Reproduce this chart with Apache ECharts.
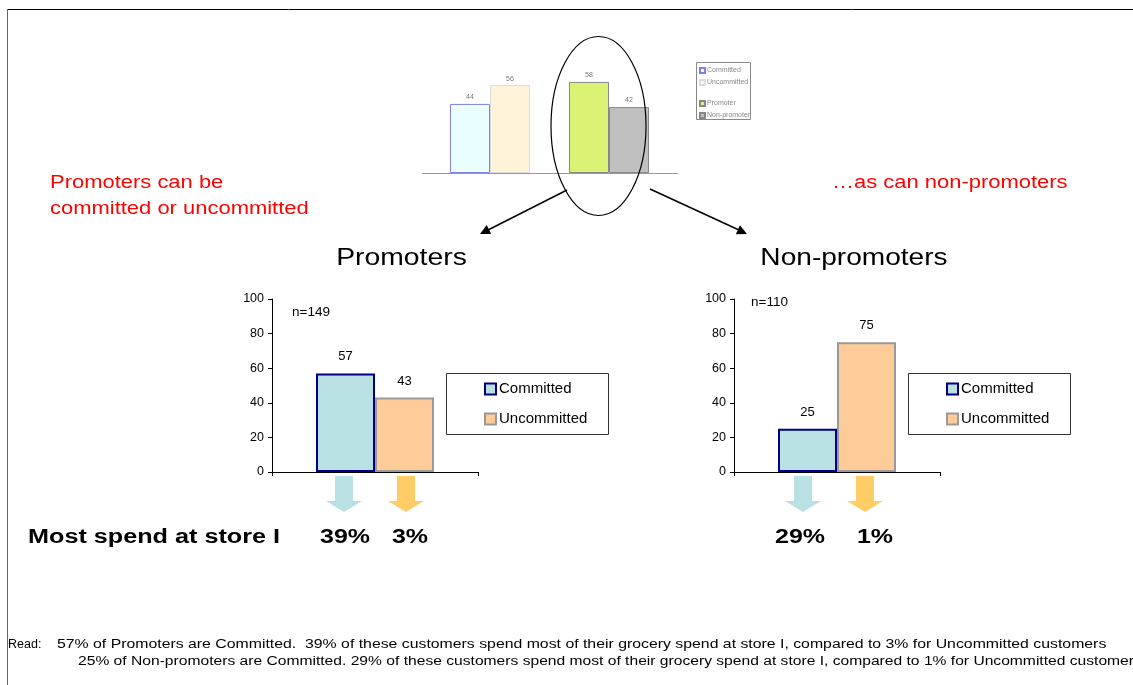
<!DOCTYPE html>
<html>
<head>
<meta charset="utf-8">
<script src="https://cdn.jsdelivr.net/npm/echarts@6/dist/echarts.min.js"></script>
<style>
html,body{margin:0;padding:0;background:#fff;}
#c{width:1133px;height:685px;}
</style>
</head>
<body>
<div id="c"></div>
<script>
// ---- data ----
const topCategories = ['Commitment', 'Advocacy'];
const topCommitted = [44, '-'];
const topUncommitted = [56, '-'];
const topPromoter = ['-', 58];
const topNonPromoter = ['-', 42];

const segmentCategory = ['Segment'];
const promotersCommitted = [57];
const promotersUncommitted = [43];
const nonPromotersCommitted = [25];
const nonPromotersUncommitted = [75];

const yTicks = [0, 20, 40, 60, 80, 100];
const promotersN = 'n=149';
const nonPromotersN = 'n=110';
const storeShare = ['39%', '3%', '29%', '1%'];

const FONT = '"Liberation Sans", Arial, sans-serif';

const chart = echarts.init(document.getElementById('c'), null, {renderer: 'canvas'});

function smallSeries(name, data, stack, fill, border) {
  return {
    name: name, type: 'bar', xAxisIndex: 0, yAxisIndex: 0, data: data, stack: stack,
    barWidth: 40, barGap: '0%',
    itemStyle: {color: fill, borderColor: border, borderWidth: 1},
    label: {show: true, position: 'top', distance: 3, fontSize: 7, color: '#777', fontFamily: FONT},
    animation: false
  };
}
function bigSeries(name, data, idx, fill, border) {
  return {
    name: name, type: 'bar', xAxisIndex: idx, yAxisIndex: idx, data: data,
    barWidth: 59, barGap: '0%',
    itemStyle: {color: fill, borderColor: border, borderWidth: 2},
    label: {show: true, position: 'top', distance: 10, fontSize: 13, color: '#000', fontFamily: FONT},
    animation: false
  };
}

const yAxisBig = (idx) => ({
  gridIndex: idx, type: 'value', min: 0, max: 100, interval: 20,
  axisLine: {show: true, lineStyle: {color: '#000', width: 1}},
  axisTick: {show: true, length: 4, lineStyle: {color: '#000'}},
  axisLabel: {fontSize: 12.5, color: '#000', fontFamily: FONT, margin: 8,
    formatter: v => (yTicks.indexOf(v) >= 0 ? String(v) : '')},
  splitLine: {show: false}
});
const xAxisBig = (idx) => ({
  gridIndex: idx, type: 'category', data: segmentCategory,
  axisLine: {show: true, lineStyle: {color: '#000', width: 1}},
  axisTick: {show: true, length: 4, lineStyle: {color: '#000'}},
  axisLabel: {show: false}
});

function downArrow(cx, color) {
  return {
    type: 'polygon', silent: true, z: 10,
    shape: {points: [[cx - 9, 476], [cx + 9, 476], [cx + 9, 501], [cx + 18, 501], [cx, 512], [cx - 18, 501], [cx - 9, 501]]},
    style: {fill: color}
  };
}
function txt(x, y, text, size, sx, style) {
  return {
    type: 'text', x: x, y: y, scaleX: sx || 1, silent: true, z: 20,
    style: Object.assign({text: text, fontSize: size, fontFamily: FONT, fill: '#000', verticalAlign: 'middle', align: 'left'}, style || {})
  };
}

const bigLegend = (names, left) => ({
  data: names, orient: 'vertical', left: left, top: 381, z: 10,
  icon: 'rect', itemWidth: 11, itemHeight: 11, itemGap: 14, padding: 0, selectedMode: false,
  textStyle: {fontSize: 15, color: '#000', fontFamily: FONT, lineHeight: 16, padding: [0, 0, 0, -2]}
});
const smallLegend = (names, top) => ({
  data: names, orient: 'vertical', left: 699, top: top, z: 10,
  icon: 'rect', itemWidth: 5, itemHeight: 5, itemGap: 5, padding: 0, selectedMode: false,
  textStyle: {fontSize: 7, color: '#888', fontFamily: FONT, padding: [0, 0, 0, -3]}
});

const option = {
  backgroundColor: '#fff',
  animation: false,
  grid: [
    {left: 430.5, top: 16, width: 238, height: 157},
    {left: 272, top: 299, width: 206, height: 173},
    {left: 734, top: 299, width: 206, height: 173}
  ],
  xAxis: [
    {gridIndex: 0, type: 'category', data: topCategories,
     axisLine: {show: false}, axisTick: {show: false}, axisLabel: {show: false}},
    xAxisBig(1), xAxisBig(2)
  ],
  yAxis: [
    {gridIndex: 0, type: 'value', min: 0, max: 100, show: false, splitLine: {show: false}},
    yAxisBig(1), yAxisBig(2)
  ],
  legend: [
    smallLegend(['Committed', 'Uncommitted'], 67),
    smallLegend(['Promoter', 'Non-promoter'], 100),
    bigLegend(['Committed ', 'Uncommitted '], 484),
    bigLegend(['Committed  ', 'Uncommitted  '], 946)
  ],
  series: [
    smallSeries('Committed', topCommitted, 'left', '#eaffff', '#8080e0'),
    smallSeries('Promoter', topPromoter, 'left', '#d9f273', '#888888'),
    smallSeries('Uncommitted', topUncommitted, 'right', '#fff3d9', '#dddddd'),
    smallSeries('Non-promoter', topNonPromoter, 'right', '#c0c0c0', '#888888'),
    bigSeries('Committed ', promotersCommitted, 1, '#b9e0e3', '#000080'),
    bigSeries('Uncommitted ', promotersUncommitted, 1, '#ffcc99', '#999999'),
    bigSeries('Committed  ', nonPromotersCommitted, 2, '#b9e0e3', '#000080'),
    bigSeries('Uncommitted  ', nonPromotersUncommitted, 2, '#ffcc99', '#999999')
  ],
  graphic: [
    // frame
    {type: 'line', silent: true, shape: {x1: 7, y1: 9.5, x2: 1133, y2: 9.5}, style: {stroke: '#000', lineWidth: 1}},
    {type: 'line', silent: true, shape: {x1: 7.5, y1: 9, x2: 7.5, y2: 685}, style: {stroke: '#666', lineWidth: 1}},
    // top axis baseline
    {type: 'line', silent: true, z: 3, shape: {x1: 422, y1: 173.5, x2: 678, y2: 173.5}, style: {stroke: '#999', lineWidth: 1}},
    // top legend box
    {type: 'rect', silent: true, z: 1, shape: {x: 696.5, y: 62.5, width: 54, height: 57}, style: {fill: '#fff', stroke: '#888', lineWidth: 1}},
    // big legend boxes
    {type: 'rect', silent: true, z: 1, shape: {x: 446.5, y: 373.5, width: 162, height: 61}, style: {fill: '#fff', stroke: '#333', lineWidth: 1}},
    {type: 'rect', silent: true, z: 1, shape: {x: 908.5, y: 373.5, width: 162, height: 61}, style: {fill: '#fff', stroke: '#333', lineWidth: 1}},
    // ellipse
    {type: 'ellipse', silent: true, z: 15, shape: {cx: 598.5, cy: 126, rx: 47.5, ry: 89.5}, style: {fill: 'none', stroke: '#000', lineWidth: 1.2}},
    // diagonal arrows
    {type: 'line', silent: true, z: 15, shape: {x1: 567, y1: 190, x2: 488, y2: 230}, style: {stroke: '#000', lineWidth: 1.5}},
    {type: 'polygon', silent: true, z: 15, shape: {points: [[480, 234], [491.2, 234.0], [486.7, 225.0]]}, style: {fill: '#000'}},
    {type: 'line', silent: true, z: 15, shape: {x1: 650, y1: 189, x2: 739, y2: 230}, style: {stroke: '#000', lineWidth: 1.5}},
    {type: 'polygon', silent: true, z: 15, shape: {points: [[747, 234], [735.8, 234.3], [740.0, 225.3]]}, style: {fill: '#000'}},
    // red annotations
    txt(50, 183, 'Promoters can be', 18, 1.22, {fill: '#ff0000'}),
    txt(50, 209, 'committed or uncommitted', 18, 1.22, {fill: '#ff0000'}),
    txt(832, 183, '\u2026as can non-promoters', 18, 1.22, {fill: '#ff0000'}),
    // titles
    txt(401.5, 258, 'Promoters', 24, 1.18, {align: 'center'}),
    txt(854, 258, 'Non-promoters', 24, 1.17, {align: 'center'}),
    // n labels
    txt(292, 312, promotersN, 13.5),
    txt(751, 302, nonPromotersN, 13.5),
    // down arrows
    downArrow(344, '#b9e0e3'),
    downArrow(406, '#ffcc66'),
    downArrow(803, '#b9e0e3'),
    downArrow(865, '#ffcc66'),
    // store share
    txt(28, 537, 'Most spend at store I', 20, 1.26, {fontWeight: 'bold'}),
    txt(345, 537, storeShare[0], 20, 1.25, {fontWeight: 'bold', align: 'center'}),
    txt(410, 537, storeShare[1], 20, 1.25, {fontWeight: 'bold', align: 'center'}),
    txt(800, 537, storeShare[2], 20, 1.25, {fontWeight: 'bold', align: 'center'}),
    txt(875, 537, storeShare[3], 20, 1.25, {fontWeight: 'bold', align: 'center'}),
    // read notes
    txt(8, 645, 'Read:', 12.5, 1),
    txt(57, 645, '57% of Promoters are Committed.  39% of these customers spend most of their grocery spend at store I, compared to 3% for Uncommitted customers', 12.5, 1.266),
    txt(78, 662, '25% of Non-promoters are Committed. 29% of these customers spend most of their grocery spend at store I, compared to 1% for Uncommitted customers', 12.5, 1.25)
  ]
};
chart.setOption(option);
</script>
</body>
</html>
